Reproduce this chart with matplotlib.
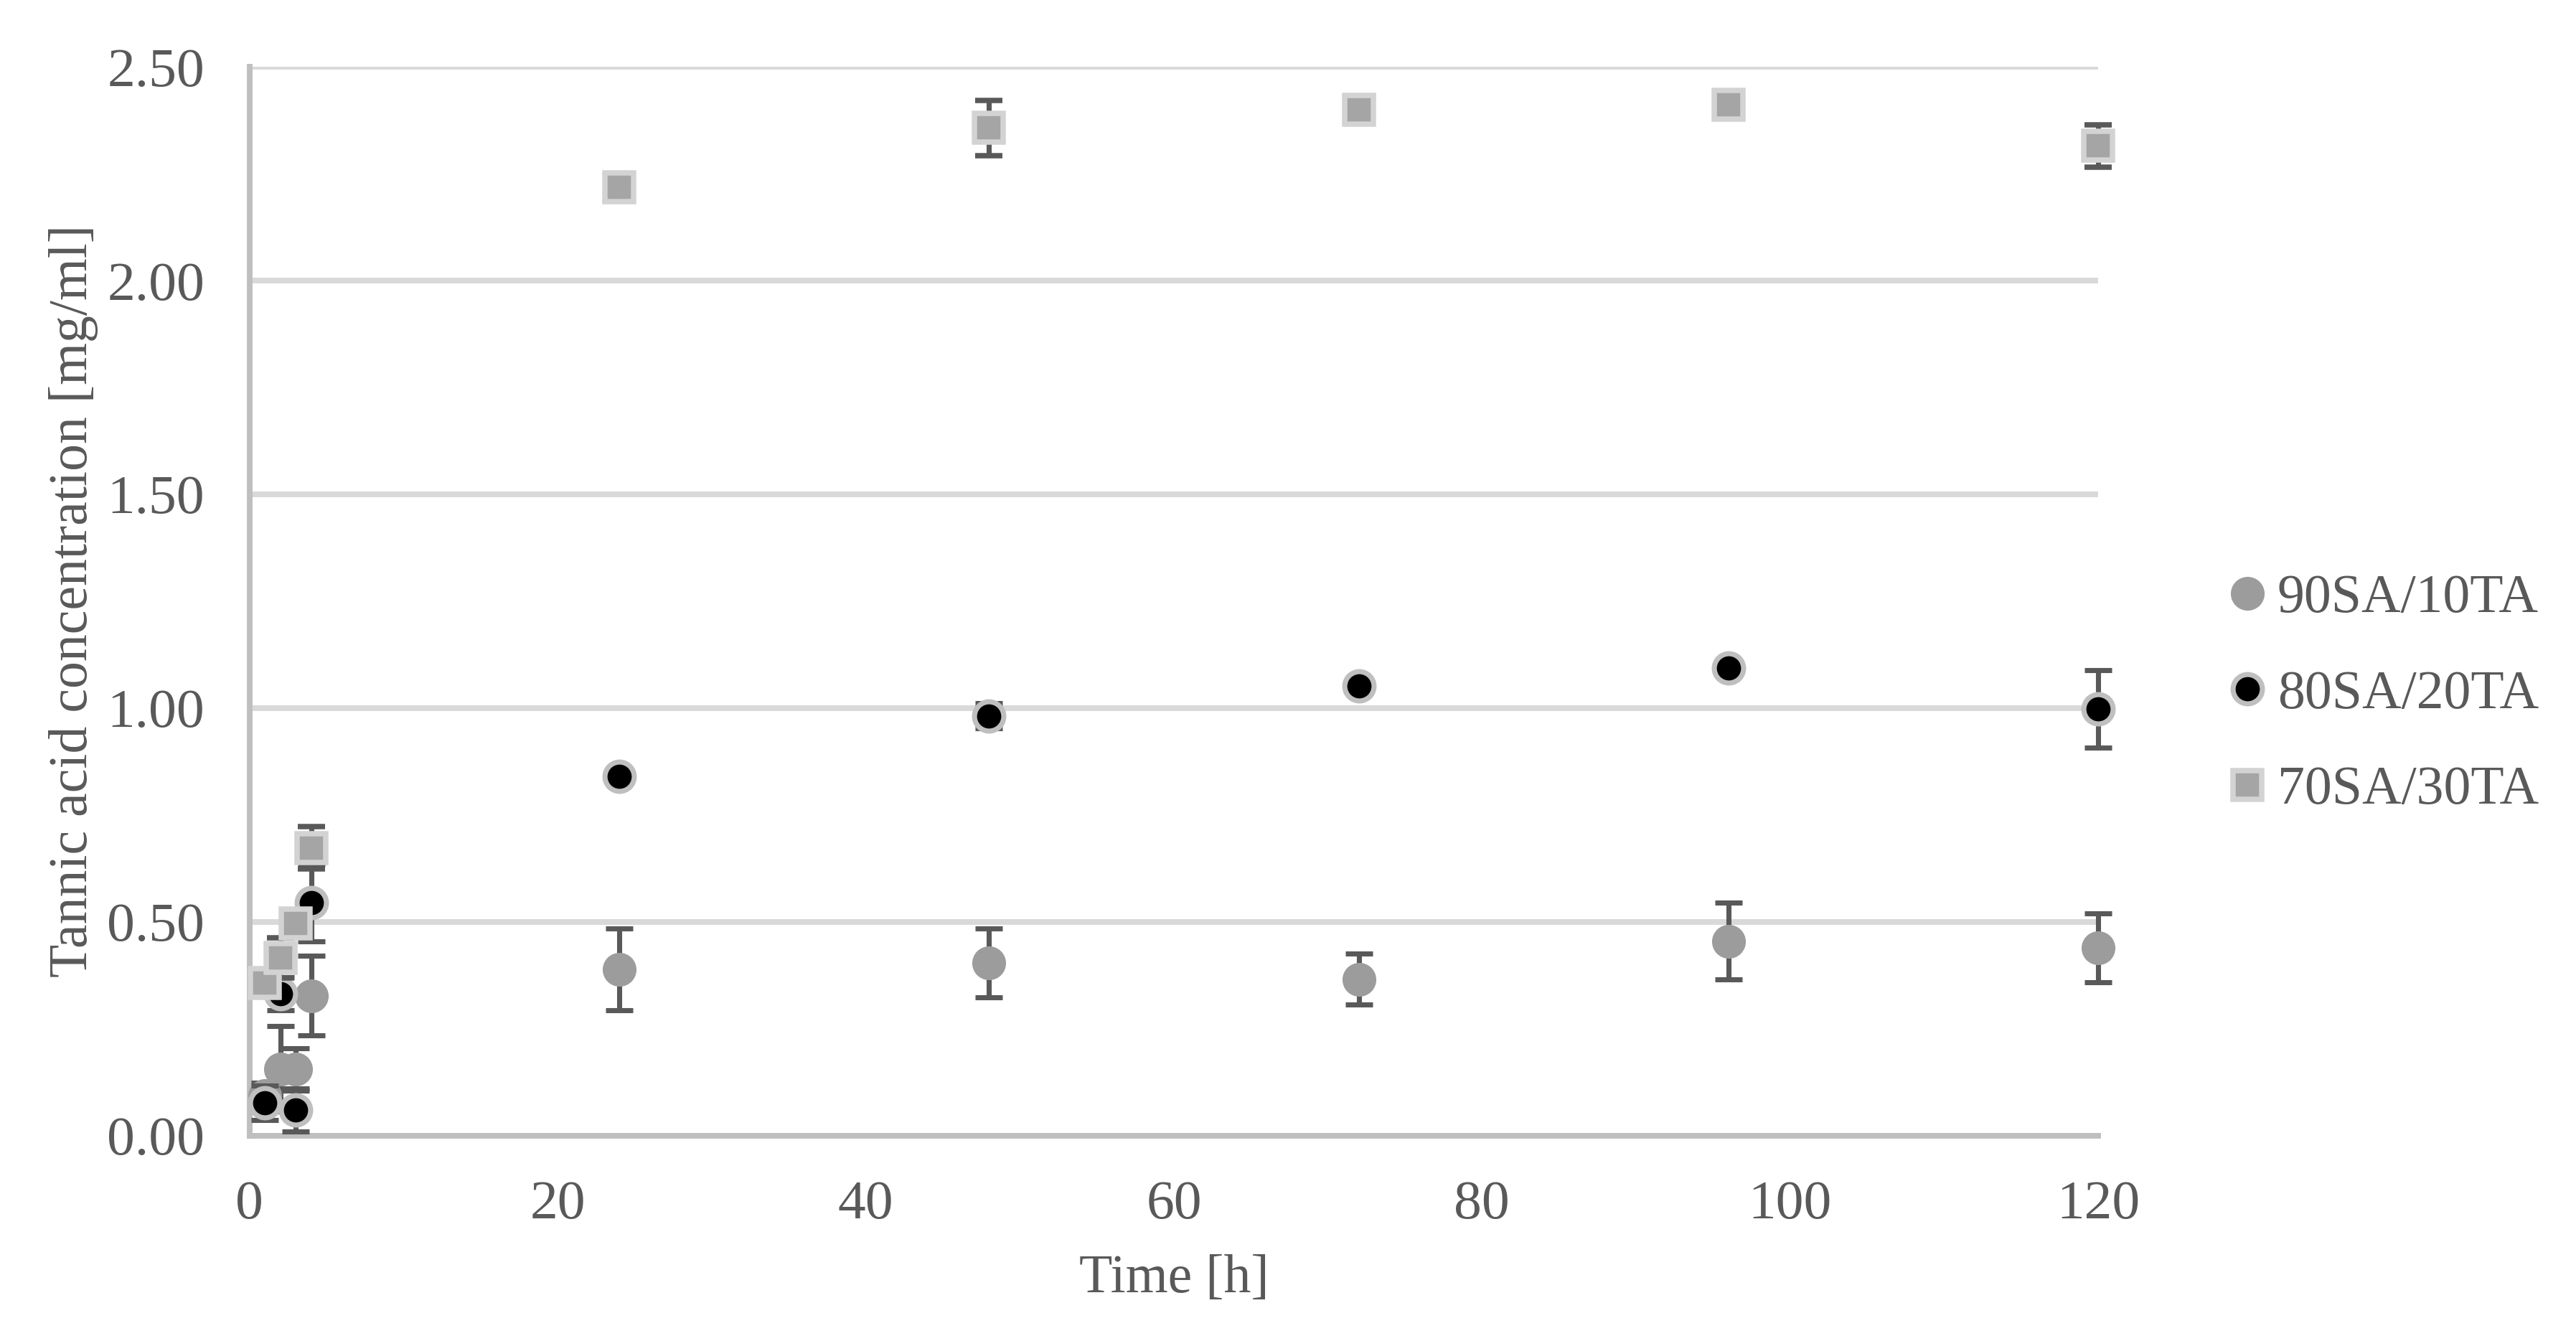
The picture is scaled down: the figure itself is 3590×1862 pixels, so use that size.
import matplotlib.pyplot as plt
import numpy as np

plt.rcParams['font.family'] = ['Liberation Serif', 'DejaVu Serif']

t = [1, 2, 3, 4, 24, 48, 72, 96, 120]

# 90SA/10TA
c90 = [0.094, 0.156, 0.155, 0.327, 0.389, 0.404, 0.366, 0.455, 0.439]
e90 = [0.03, 0.10, 0.05, 0.093, 0.096, 0.08, 0.06, 0.09, 0.08]
# 80SA/20TA
c80 = [0.077, 0.332, 0.060, 0.545, 0.840, 0.982, 1.052, 1.094, 0.998]
e80 = [0.04, 0.038, 0.05, 0.09, 0.01, 0.03, 0.01, 0.01, 0.09]
# 70SA/30TA
c70 = [0.357, 0.416, 0.497, 0.673, 2.219, 2.357, 2.400, 2.411, 2.315]
e70 = [0.01, 0.047, 0.02, 0.05, 0.01, 0.065, 0.01, 0.01, 0.05]

labels = ['90SA/10TA', '80SA/20TA', '70SA/30TA']

txt = '#595959'
fig = plt.figure(figsize=(3590 / 300, 1862 / 300), dpi=300)
ax = fig.add_axes([0.0969, 0.150, 0.7176, 0.800])

eb = dict(ecolor='#595959', elinewidth=1.7, capsize=4.6, linestyle='none')
conts = []
conts.append(ax.errorbar(t, c90, yerr=e90, marker='o', ms=9.6, mfc='#9c9c9c', mec='#9c9c9c',
                         mew=1.7, label=labels[0], zorder=3, **eb))
conts.append(ax.errorbar(t, c80, yerr=e80, marker='o', ms=9.8, mfc='black', mec='#bfbfbf',
                         mew=1.7, label=labels[1], zorder=4, **eb))
conts.append(ax.errorbar(t, c70, yerr=e70, marker='s', ms=9.8, mfc='#a5a5a5', mec='#d3d3d3',
                         mew=1.8, label=labels[2], zorder=5, **eb))
for c in conts:
    for a in c.get_children():
        a.set_clip_on(False)

ax.set_xlim(0, 120)
ax.set_ylim(0, 2.5)
ax.set_xticks(np.arange(0, 121, 20))
ax.set_yticks(np.arange(0, 2.51, 0.5))
ax.set_yticklabels(['%.2f' % v for v in np.arange(0, 2.51, 0.5)])
ax.grid(axis='y', color='#d9d9d9', linewidth=1.9, zorder=0)
ax.set_axisbelow(True)
for s in ['top', 'right']:
    ax.spines[s].set_visible(False)
for s in ['left', 'bottom']:
    ax.spines[s].set_color('#bfbfbf')
    ax.spines[s].set_linewidth(1.9)
ax.tick_params(length=0, labelsize=18.6, labelcolor=txt, pad=15)

ax.set_xlabel('Time [h]', fontsize=18.2, color=txt, labelpad=8)
ax.set_ylabel('Tannic acid concentration [mg/ml]', fontsize=18.2, color=txt, labelpad=3)

handles, labs = ax.get_legend_handles_labels()
handles = [h[0] for h in handles]
leg = fig.legend(handles, labs, loc='center left', bbox_to_anchor=(0.845, 0.480),
                 frameon=False, fontsize=18.2, handlelength=0.8, handletextpad=0.15,
                 labelspacing=0.85, labelcolor=txt)

plt.savefig('out.png', dpi=300)
